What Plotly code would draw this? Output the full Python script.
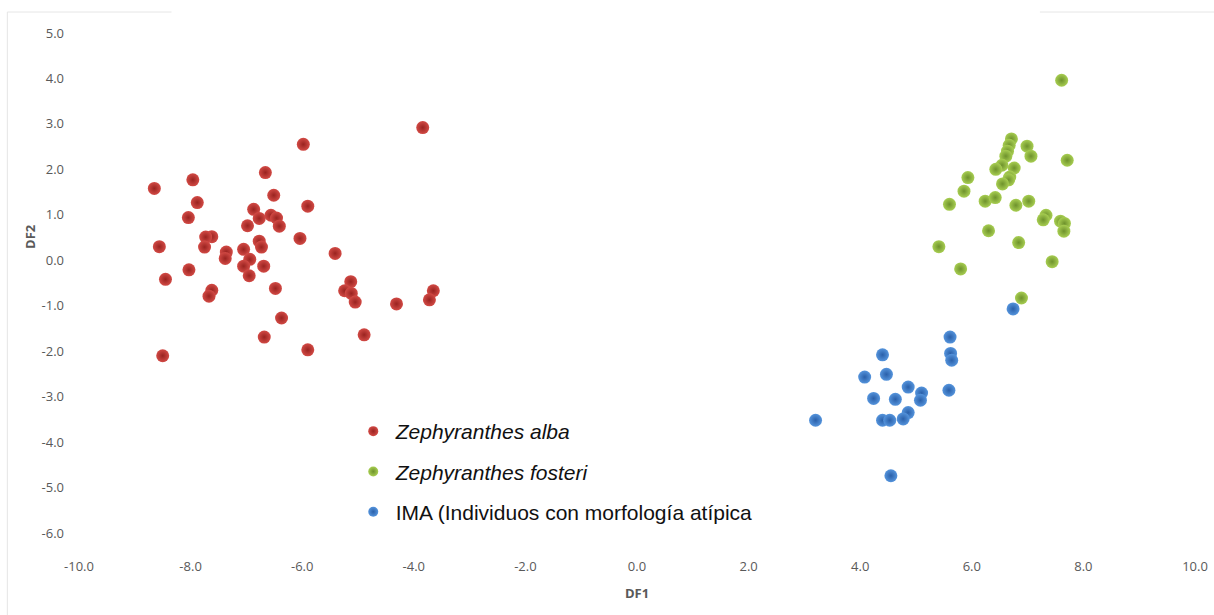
import plotly.graph_objects as go

# Zephyranthes alba
alba_x = [-3.84, -5.98, -6.66, -8.65, -7.96, -6.51, -7.88, -5.90, -8.04, -6.87, -6.77, -6.56,
          -6.46, -6.41, -6.98, -6.04, -7.62, -7.73, -8.56, -7.75, -6.77, -6.73, -7.36, -7.38,
          -7.05, -6.94, -7.05, -6.69, -6.95, -5.41, -8.03, -8.45, -7.62, -7.67, -6.48, -5.13,
          -5.24, -5.12, -5.05, -4.31, -3.65, -3.72, -6.37, -4.89, -6.68, -5.90, -8.50]
alba_y = [2.92, 2.55, 1.93, 1.58, 1.77, 1.43, 1.27, 1.19, 0.94, 1.12, 0.92, 0.99,
          0.93, 0.75, 0.76, 0.48, 0.52, 0.51, 0.30, 0.29, 0.42, 0.29, 0.18, 0.04,
          0.24, 0.02, -0.13, -0.13, -0.34, 0.15, -0.21, -0.42, -0.66, -0.79, -0.62, -0.47,
          -0.67, -0.73, -0.92, -0.96, -0.67, -0.87, -1.27, -1.64, -1.69, -1.97, -2.10]

# Zephyranthes fosteri
fost_x = [7.61, 6.71, 6.67, 6.99, 6.64, 6.61, 7.06, 7.71, 6.54, 6.43, 6.76, 5.93,
          6.68, 6.66, 6.55, 5.86, 5.60, 6.24, 6.42, 6.79, 7.02, 7.33, 7.28, 7.59,
          7.66, 7.65, 6.30, 6.84, 5.41, 5.80, 7.44, 6.89]
fost_y = [3.96, 2.67, 2.53, 2.51, 2.40, 2.29, 2.29, 2.20, 2.09, 2.00, 2.03, 1.82,
          1.83, 1.77, 1.68, 1.52, 1.23, 1.30, 1.38, 1.21, 1.30, 0.99, 0.89, 0.86,
          0.81, 0.64, 0.65, 0.39, 0.30, -0.19, -0.03, -0.83]

# IMA
ima_x = [6.74, 5.61, 5.62, 5.64, 4.40, 4.08, 4.47, 4.86, 5.10, 5.08, 5.59, 4.24,
         4.63, 4.86, 4.77, 4.40, 4.53, 3.20, 4.55]
ima_y = [-1.07, -1.69, -2.05, -2.20, -2.08, -2.57, -2.51, -2.79, -2.92, -3.08, -2.86, -3.04,
         -3.06, -3.35, -3.49, -3.52, -3.52, -3.52, -4.74]

x_ticks = [-10, -8, -6, -4, -2, 0, 2, 4, 6, 8, 10]
y_ticks = [5, 4, 3, 2, 1, 0, -1, -2, -3, -4, -5, -6]

series = [
    ("<i>Zephyranthes alba</i>", alba_x, alba_y, "#D24A45", "#9A2320"),
    ("<i>Zephyranthes fosteri</i>", fost_x, fost_y, "#A8CE52", "#6E922C"),
    ("IMA (Individuos con morfología atípica", ima_x, ima_y, "#5594DC", "#2A60AA"),
]

fig = go.Figure()
for i, (name, xs, ys, c, edge) in enumerate(series):
    fig.add_trace(go.Scatter(
        x=xs, y=ys, mode="markers", showlegend=False, hoverinfo="x+y",
        marker=dict(size=13, color=c, line=dict(width=0),
                    gradient=dict(type="radial", color=edge)),
    ))
for i, (name, xs, ys, c, edge) in enumerate(series):
    fig.add_trace(go.Scatter(
        x=[None], y=[None], mode="markers", name=name, legendgroup=f"g{i}",
        marker=dict(size=10, color=c, line=dict(width=0),
                    gradient=dict(type="radial", color=edge)),
    ))

gridline = dict(type="line", xref="paper", yref="paper", line=dict(color="#E6E6E6", width=1))
shapes = [
    dict(gridline, x0=-0.0642, x1=-0.0642, y0=1.042, y1=-0.17),
    dict(gridline, x0=-0.0642, x1=0.0829, y0=1.042, y1=1.042),
    dict(gridline, x0=0.861, x1=1.1, y0=1.042, y1=1.042),
]

tickfont = dict(family="Open Sans, Noto Sans, sans-serif", size=13, color="#595959")

fig.update_layout(
    width=1214, height=615,
    margin=dict(l=79, r=19, t=33, b=82),
    paper_bgcolor="white", plot_bgcolor="white",
    shapes=shapes,
    xaxis=dict(range=[-10, 10], tickvals=x_ticks, ticktext=[f"{v:.1f}" for v in x_ticks],
               showgrid=False, zeroline=False, showline=False, ticks="", automargin=False,
               tickfont=tickfont, ticklabelstandoff=24,
               title=dict(text="<b>DF1</b>", standoff=14,
                          font=dict(family="Open Sans, Noto Sans, sans-serif", size=13, color="#595959"))),
    yaxis=dict(range=[-6, 5], tickvals=y_ticks, ticktext=[f"{v:.1f}" for v in y_ticks],
               showgrid=False, zeroline=False, showline=False, ticks="", automargin=False,
               tickfont=tickfont, ticklabelstandoff=14),
    annotations=[dict(text="<b>DF2</b>", xref="paper", yref="paper", x=-0.044, y=0.594,
                      xanchor="center", yanchor="middle", textangle=-90, showarrow=False,
                      font=dict(family="Open Sans, Noto Sans, sans-serif", size=13, color="#595959"))],
    legend=dict(x=0.2435, y=0.244, xanchor="left", yanchor="top", bgcolor="rgba(0,0,0,0)",
                tracegroupgap=10, itemsizing="trace", itemwidth=35,
                font=dict(family="Liberation Sans, Arial, sans-serif", size=21, color="#111111")),
)

fig.write_html("out.html")
